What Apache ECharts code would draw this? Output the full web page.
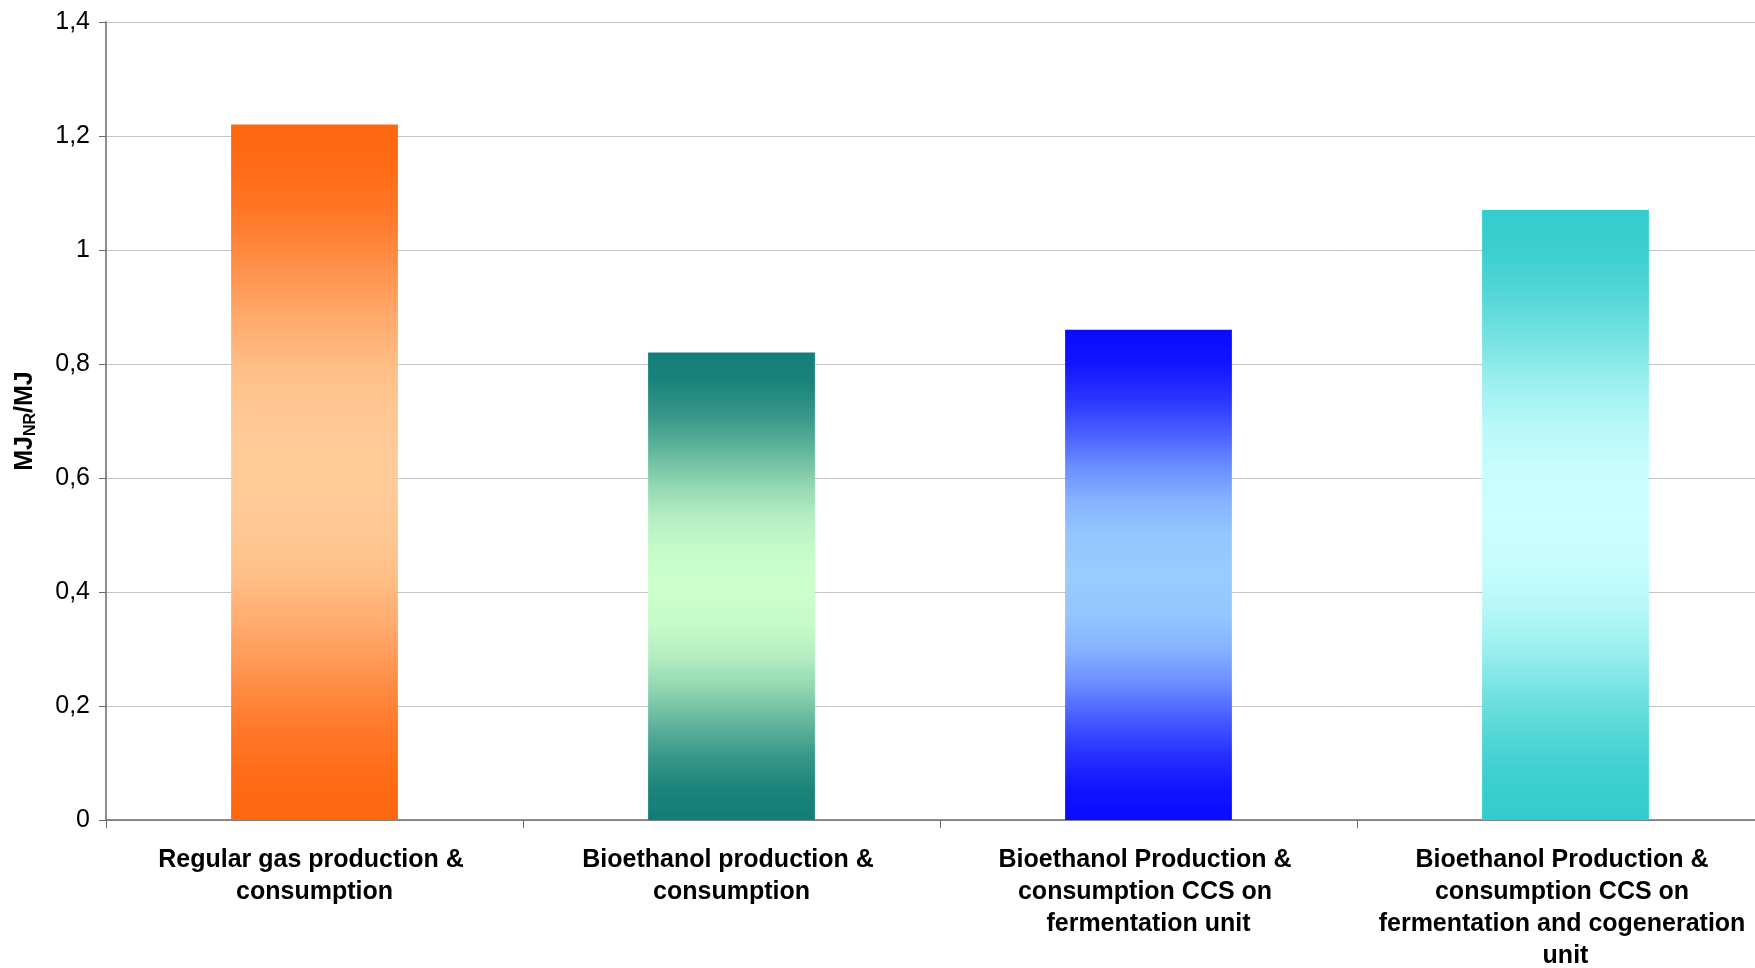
<!DOCTYPE html>
<html>
<head>
<meta charset="utf-8">
<script src="https://cdn.jsdelivr.net/npm/echarts@6/dist/echarts.min.js"></script>
<style>
html,body{margin:0;padding:0;background:#fff;}
#chart{width:1755px;height:968px;}
</style>
</head>
<body>
<div id="chart"></div>
<script>
const categories = [
  'Regular gas production & consumption',
  'Bioethanol production & consumption',
  'Bioethanol Production & consumption CCS on fermentation unit',
  'Bioethanol Production & consumption CCS on fermentation and cogeneration unit'
];
const values = [1.22, 0.82, 0.86, 1.07];
const yTicks = [0, 0.2, 0.4, 0.6, 0.8, 1.0, 1.2, 1.4];

const edgeColors = ['#FF6610', '#127D77', '#0A0AFF', '#33CCCC'];
const centerColors = ['#FFCC99', '#CCFFCC', '#99CCFF', '#CCFFFF'];
// gradient profile (edge -> centre): position along half bar, and mix amount
const rampPos = [0, 0.13, 0.27, 0.41, 0.56, 0.70, 0.84, 1];
const rampMix = [0, 0.05, 0.20, 0.42, 0.68, 0.87, 0.97, 1];

const FONT = '"Liberation Sans", Arial, sans-serif';

function hexToRgb(h) {
  const n = parseInt(h.slice(1), 16);
  return [(n >> 16) & 255, (n >> 8) & 255, n & 255];
}
function mix(a, b, m) {
  const A = hexToRgb(a), B = hexToRgb(b);
  const c = A.map((v, i) => Math.round(v + (B[i] - v) * m));
  return 'rgb(' + c.join(',') + ')';
}
function barGradient(i) {
  const stops = [];
  rampPos.forEach((p, k) => stops.push({offset: p / 2, color: mix(edgeColors[i], centerColors[i], rampMix[k])}));
  for (let k = rampPos.length - 2; k >= 0; k--) {
    stops.push({offset: 1 - rampPos[k] / 2, color: mix(edgeColors[i], centerColors[i], rampMix[k])});
  }
  return new echarts.graphic.LinearGradient(0, 0, 0, 1, stops);
}

const chart = echarts.init(document.getElementById('chart'), null, {renderer: 'canvas'});
chart.setOption({
  backgroundColor: '#ffffff',
  animation: false,
  grid: {left: 106, top: 22, width: 1668, height: 798, containLabel: false, outerBoundsMode: 'none'},
  xAxis: {
    type: 'category',
    data: categories,
    axisLine: {show: true, lineStyle: {color: '#6b6b6b', width: 1.5}},
    axisTick: {show: true, alignWithLabel: false, length: 8, lineStyle: {color: '#6b6b6b'}},
    axisLabel: {
      interval: 0,
      margin: 24,
      color: '#000',
      fontFamily: FONT,
      fontWeight: 'bold',
      fontSize: 25,
      lineHeight: 32,
      width: 395,
      overflow: 'break',
      align: 'center'
    },
    splitLine: {show: false}
  },
  yAxis: {
    type: 'value',
    min: yTicks[0],
    max: yTicks[yTicks.length - 1],
    interval: 0.2,
    name: '{a|MJ}{b|NR}{a|/MJ}',
    nameLocation: 'middle',
    nameRotate: 90,
    nameGap: 67,
    nameTextStyle: {
      rich: {
        a: {fontFamily: FONT, fontWeight: 'bold', fontSize: 25, color: '#000', lineHeight: 28},
        b: {fontFamily: FONT, fontWeight: 'bold', fontSize: 16, color: '#000', lineHeight: 28, verticalAlign: 'bottom', padding: [14, 0, 0, 0]}
      }
    },
    axisLine: {show: true, lineStyle: {color: '#6b6b6b', width: 1.5}},
    axisTick: {show: true, length: 7, lineStyle: {color: '#6b6b6b'}},
    axisLabel: {
      margin: 16,
      color: '#000',
      fontFamily: FONT,
      fontSize: 25,
      formatter: v => String(Math.round(v * 10) / 10).replace('.', ',')
    },
    splitLine: {show: true, lineStyle: {color: '#c4c4c4', width: 1}}
  },
  series: [{
    type: 'bar',
    barWidth: '40%',
    data: values.map((v, i) => ({
      value: v,
      itemStyle: {color: barGradient(i)}
    }))
  }]
});
</script>
</body>
</html>
